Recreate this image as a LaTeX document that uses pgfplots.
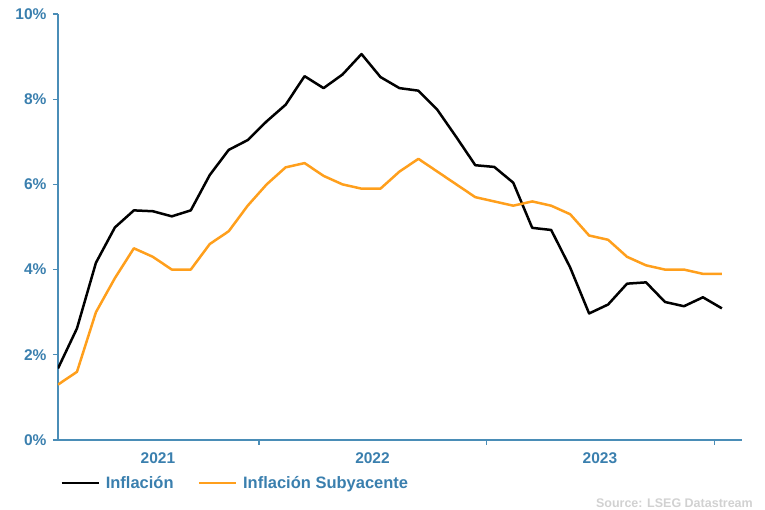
\documentclass[border=0pt]{standalone}
\usepackage{pgfplots}
\pgfplotsset{compat=1.18}
\usepackage{fontspec}
\setmainfont{Liberation Sans}
\definecolor{axblue}{HTML}{4A8DB7}
\definecolor{txtblue}{HTML}{3A7FAE}
\definecolor{corange}{HTML}{FF9F1C}
\pgfplotstableread{
x infl core
0 1.68 1.3
1 2.62 1.6
2 4.16 3.0
3 4.99 3.8
4 5.39 4.5
5 5.37 4.3
6 5.25 4.0
7 5.39 4.0
8 6.22 4.6
9 6.81 4.9
10 7.04 5.5
11 7.48 6.0
12 7.87 6.4
13 8.54 6.5
14 8.26 6.2
15 8.58 6.0
16 9.06 5.9
17 8.52 5.9
18 8.26 6.3
19 8.20 6.6
20 7.75 6.3
21 7.11 6.0
22 6.45 5.7
23 6.41 5.6
24 6.04 5.5
25 4.98 5.6
26 4.93 5.5
27 4.05 5.3
28 2.97 4.8
29 3.18 4.7
30 3.67 4.3
31 3.70 4.1
32 3.24 4.0
33 3.14 4.0
34 3.35 3.9
35 3.09 3.9
}\datatable
\begin{document}
\begin{tikzpicture}[x=1pt,y=1pt]
\useasboundingbox (0,0) rectangle (765,510);
\begin{axis}[
  at={(58pt,70pt)}, anchor=south west,
  scale only axis, width=684pt, height=426pt,
  xmin=0, xmax=36.06, ymin=0, ymax=10,
  axis lines=left,
  axis line style={axblue, line width=1.2pt, -},
  ytick={0,2,4,6,8,10},
  yticklabel={\pgfmathprintnumber{\tick}\%},
  yticklabel style={xshift=-3pt},
  xtick={10.6,22.58,34.6}, xticklabels={},
  extra x ticks={5.27,16.58,28.57},
  extra x tick labels={2021,2022,2023},
  extra x tick style={major tick length=0pt, tick label style={yshift=-9pt}},
  tick style={axblue, line width=1.2pt},
  major tick length=5pt,
  tick align=outside,
  ticklabel style={font=\bfseries\fontsize{15.5}{18}\selectfont, text=txtblue},
  /pgf/number format/assume math mode=true,
  legend columns=2,
  legend style={draw=none, fill=none, at={(0.003,-0.101)}, anchor=west,
    inner sep=0pt, font=\bfseries\fontsize{16.5}{19}\selectfont, text=txtblue,
    /tikz/every odd column/.append style={column sep=4pt},
    /tikz/every even column/.append style={column sep=22pt}},
  legend cell align=left,
  legend image code/.code={\draw[#1, line width=2.5pt] (0pt,0pt) -- (37pt,0pt);},
]
\addplot[black, line width=2.5pt, line join=round] table[x=x, y=infl] {\datatable};
\addlegendentry{Inflación}
\addplot[corange, line width=2.5pt, line join=round] table[x=x, y=core] {\datatable};
\addlegendentry{Inflación Subyacente}
\end{axis}
\node[anchor=south east, inner sep=0pt, text=black!18, font=\bfseries\fontsize{12.5}{15}\selectfont] at (753,2) {Source: LSEG Datastream};
\end{tikzpicture}
\end{document}
